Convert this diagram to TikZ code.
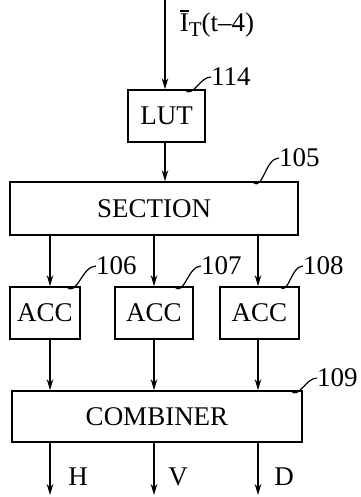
\documentclass[tikz,border=0pt]{standalone}
\usepackage{fontspec}
\setmainfont{Liberation Serif}
\usetikzlibrary{arrows.meta}
\newcommand{\barI}{{\setbox0\hbox{I}\rlap{\raisebox{\dimexpr\ht0+2.5pt\relax}{\rule{\wd0}{1.2pt}}}I}}
\begin{document}
\begin{tikzpicture}[x=1pt,y=-1pt,
  blk/.style={draw,line width=1.5pt,inner sep=0pt,font=\fontsize{27}{27}\selectfont},
  lbl/.style={inner sep=0pt,font=\fontsize{27}{27}\selectfont},
  arr/.style={line width=1.5pt,-{Stealth[length=11pt,width=6.5pt]}},
  lead/.style={line width=1.2pt}]
\useasboundingbox (0,0) rectangle (360,497);
% boxes
\node[blk,minimum width=77pt,minimum height=52pt] (lut) at (166.5,116) {LUT};
\node[blk,minimum width=288pt,minimum height=53pt] (sec) at (154,208.5) {SECTION};
\node[blk,minimum width=70pt,minimum height=52pt] (acc1) at (45,313) {ACC};
\node[blk,minimum width=78pt,minimum height=52pt] (acc2) at (154,313) {ACC};
\node[blk,minimum width=79pt,minimum height=52pt] (acc3) at (259.5,313) {ACC};
\node[blk,minimum width=290pt,minimum height=51pt] (comb) at (157,416.5) {COMBINER};
% coordinates
\coordinate (in) at (165,0);
\coordinate (c1) at (50,0);
\coordinate (c2) at (154,0);
\coordinate (c3) at (258,0);
\coordinate (oH) at (50,495);
\coordinate (oV) at (154,495);
\coordinate (oD) at (258,495);
% input label
\node[lbl] (inl) at (217,24) {\barI\raisebox{-5pt}{\fontsize{21}{21}\selectfont T}(t–4)};
% arrows
\draw[arr] (in) -- (lut.north -| in);
\draw[arr] (lut.south -| in) -- (sec.north -| in);
\draw[arr] (sec.south -| c1) -- (acc1.north -| c1);
\draw[arr] (sec.south -| c2) -- (acc2.north -| c2);
\draw[arr] (sec.south -| c3) -- (acc3.north -| c3);
\draw[arr] (acc1.south -| c1) -- (comb.north -| c1);
\draw[arr] (acc2.south -| c2) -- (comb.north -| c2);
\draw[arr] (acc3.south -| c3) -- (comb.north -| c3);
\draw[arr] (comb.south -| c1) -- (oH);
\draw[arr] (comb.south -| c2) -- (oV);
\draw[arr] (comb.south -| c3) -- (oD);
% output labels
\node[lbl] (lH) at (78,477) {H};
\node[lbl] (lV) at (178,477) {V};
\node[lbl] (lD) at (284,477) {D};
% reference numbers
\node[lbl,anchor=west] (n114) at (211,77) {114};
\node[lbl,anchor=west] (n105) at (279,158) {105};
\node[lbl,anchor=west] (n106) at (96,266) {106};
\node[lbl,anchor=west] (n107) at (201,266) {107};
\node[lbl,anchor=west] (n108) at (303,266) {108};
\node[lbl,anchor=west] (n109) at (317,378) {109};
% leaders
\draw[lead] (185,90) to[out=-45,in=180] (n114.west);
\draw[lead] (253,182) to[out=-45,in=180] (n105.west);
\draw[lead] (67,287) to[out=-45,in=180] (n106.west);
\draw[lead] (175,287) to[out=-45,in=180] (n107.west);
\draw[lead] (280,287) to[out=-45,in=180] (n108.west);
\draw[lead] (291,391) to[out=-45,in=180] (n109.west);
\end{tikzpicture}
\end{document}
